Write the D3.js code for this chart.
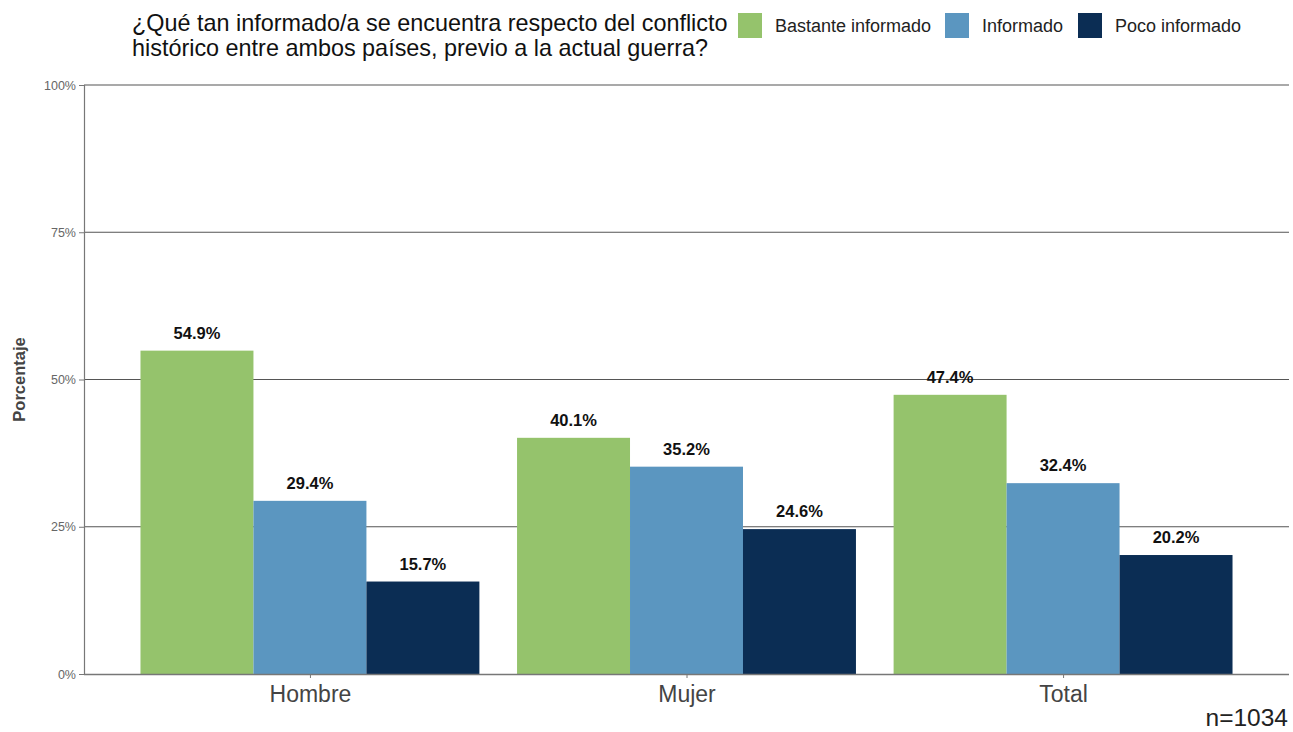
<!DOCTYPE html>
<html><head><meta charset="utf-8">
<script src="https://cdn.jsdelivr.net/npm/d3@7"></script>
<style>body{margin:0;background:#fff;}svg{display:block;font-family:"Liberation Sans",Arial,sans-serif;}</style>
</head><body>
<script>
const categories = ["Hombre", "Mujer", "Total"];
const seriesNames = ["Bastante informado", "Informado", "Poco informado"];
const bastante = [54.9, 40.1, 47.4];
const informado = [29.4, 35.2, 32.4];
const poco = [15.7, 24.6, 20.2];
const yTicks = [0, 25, 50, 75, 100];
const colors = ["#95C36C", "#5B96C0", "#0B2D54"];
const seriesValues = [bastante, informado, poco];

(function () {
const W = 1293, H = 732;
const svg = d3.select("body").append("svg").attr("width", W).attr("height", H);
const pL = 84, pR = 1289, pT = 85, pB = 674;

const y = d3.scaleLinear().domain([0, 100]).range([pB, pT]);
const step = (pR - pL) / 3.2;
const x = d3.scalePoint().domain(categories).range([pL + 0.6 * step, pR - 0.6 * step]);
const groupW = 0.9 * step;
const xs = d3.scaleBand().domain(seriesNames).range([-groupW / 2, groupW / 2]).padding(0);

// gridlines
svg.append("g").selectAll("line").data(yTicks.filter(d => d > 0)).join("line")
  .attr("x1", pL).attr("x2", pR)
  .attr("y1", d => y(d)).attr("y2", d => y(d))
  .attr("stroke", "#555").attr("stroke-width", 1.1);

// bars
categories.forEach((c, i) => {
  seriesNames.forEach((s, j) => {
    const v = seriesValues[j][i];
    svg.append("rect")
      .attr("x", x(c) + xs(s)).attr("width", xs.bandwidth())
      .attr("y", y(v)).attr("height", y(0) - y(v))
      .attr("fill", colors[j]);
    svg.append("text")
      .attr("x", x(c) + xs(s) + xs.bandwidth() / 2)
      .attr("y", y(v) - 12)
      .attr("text-anchor", "middle")
      .attr("font-size", 16.5).attr("font-weight", "bold").attr("fill", "#111")
      .text(v.toFixed(1) + "%");
  });
});

// y axis
const yAxis = svg.append("g").attr("transform", `translate(${pL},0)`)
  .call(d3.axisLeft(y).tickValues(yTicks).tickFormat(d => d + "%").tickSize(5).tickPadding(3));
yAxis.select(".domain").attr("stroke", "#777").attr("stroke-width", 1.2);
yAxis.selectAll(".tick line").attr("stroke", "#777");
yAxis.selectAll("text").attr("font-size", 12.5).attr("fill", "#666").attr("font-family", "Liberation Sans, Arial, sans-serif");

// x axis
const xAxis = svg.append("g").attr("transform", `translate(0,${pB})`)
  .call(d3.axisBottom(x).tickSize(4).tickPadding(8).tickSizeOuter(0));
xAxis.select(".domain").attr("stroke", "#777").attr("stroke-width", 1.3).attr("d", `M${pL},0.5H${pR}`);
xAxis.selectAll(".tick line").attr("stroke", "#777");
xAxis.selectAll("text").attr("font-size", 23).attr("fill", "#444").attr("font-family", "Liberation Sans, Arial, sans-serif");

// y label
svg.append("text").attr("transform", `translate(25,${(pT + pB) / 2}) rotate(-90)`)
  .attr("text-anchor", "middle").attr("font-size", 16.5).attr("font-weight", "bold").attr("fill", "#444")
  .text("Porcentaje");

// title
const title = svg.append("text").attr("font-size", 23.4).attr("fill", "#111");
title.append("tspan").attr("x", 132).attr("y", 31).text("¿Qué tan informado/a se encuentra respecto del conflicto");
title.append("tspan").attr("x", 132).attr("y", 56).text("histórico entre ambos países, previo a la actual guerra?");

// legend
const legX = [738, 945, 1078];
seriesNames.forEach((s, j) => {
  svg.append("rect").attr("x", legX[j]).attr("y", 13).attr("width", 24).attr("height", 25).attr("fill", colors[j]);
  svg.append("text").attr("x", legX[j] + 37).attr("y", 32).attr("font-size", 18).attr("fill", "#222").text(s);
});

// caption
svg.append("text").attr("x", 1288).attr("y", 726).attr("text-anchor", "end")
  .attr("font-size", 24.5).attr("fill", "#222").text("n=1034");
})();
</script>
</body></html>
